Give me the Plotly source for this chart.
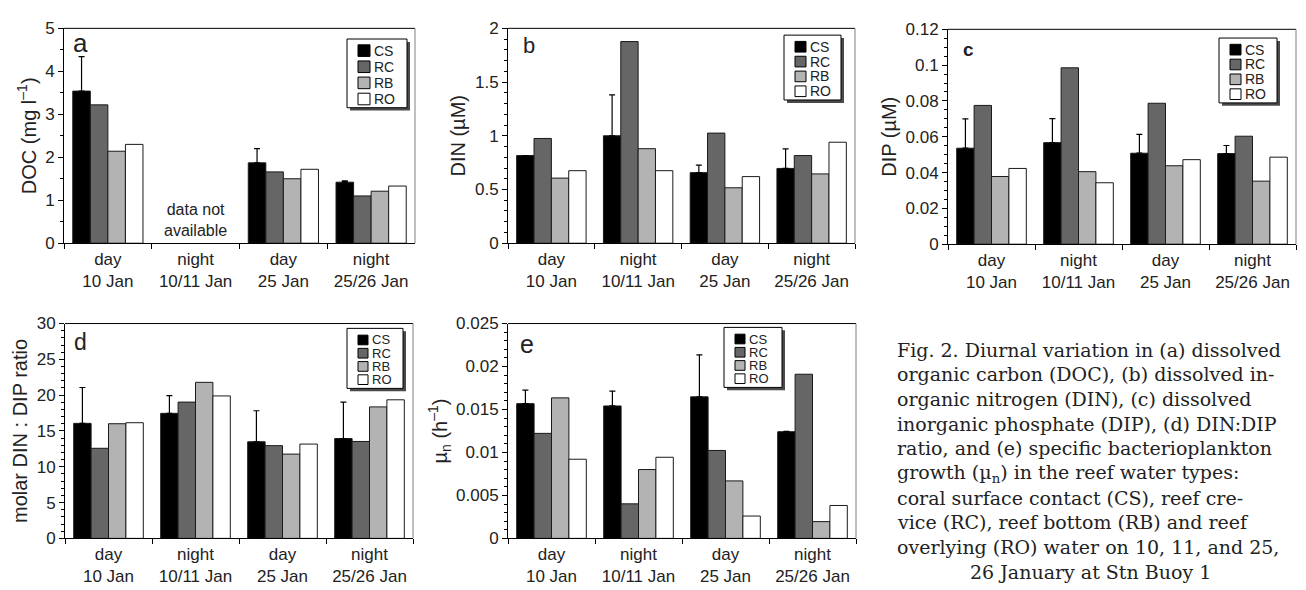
import plotly.graph_objects as go

W, H = 1306, 590

categories = ["day<br>10 Jan", "night<br>10/11 Jan", "day<br>25 Jan", "night<br>25/26 Jan"]
series_names = ["CS", "RC", "RB", "RO"]
series_colors = ["#000000", "#666666", "#b3b3b3", "#ffffff"]

# (a) DOC (mg l-1) — night 10/11 Jan not available
doc_cs = [3.54, None, 1.87, 1.42]
doc_rc = [3.22, None, 1.66, 1.10]
doc_rb = [2.14, None, 1.50, 1.21]
doc_ro = [2.30, None, 1.72, 1.33]
doc_cs_err = [0.80, 0, 0.33, 0.03]

# (b) DIN (uM)
din_cs = [0.816, 1.00, 0.657, 0.696]
din_rc = [0.975, 1.877, 1.025, 0.816]
din_rb = [0.606, 0.88, 0.516, 0.645]
din_ro = [0.675, 0.675, 0.62, 0.94]
din_cs_err = [0.0, 0.38, 0.07, 0.183]

# (c) DIP (uM)
dip_cs = [0.0536, 0.0567, 0.0508, 0.0506]
dip_rc = [0.0775, 0.0985, 0.0787, 0.0603]
dip_rb = [0.0378, 0.0405, 0.0438, 0.0352]
dip_ro = [0.0423, 0.0343, 0.0472, 0.0486]
dip_cs_err = [0.0164, 0.0134, 0.0105, 0.0045]

# (d) molar DIN:DIP ratio
ratio_cs = [16.06, 17.46, 13.49, 13.94]
ratio_rc = [12.58, 19.03, 12.95, 13.53]
ratio_rb = [16.01, 21.79, 11.77, 18.36]
ratio_ro = [16.15, 19.89, 13.17, 19.35]
ratio_cs_err = [5.01, 2.48, 4.33, 5.09]

# (e) specific growth mu_n (h-1)
mu_cs = [0.01568, 0.01541, 0.01647, 0.01241]
mu_rc = [0.01222, 0.00402, 0.01023, 0.0191]
mu_rb = [0.01635, 0.00801, 0.00669, 0.00195]
mu_ro = [0.00921, 0.00944, 0.0026, 0.00383]
mu_cs_err = [0.00158, 0.00173, 0.00488, 0.00003]

panels = [
    dict(vals=[doc_cs, doc_rc, doc_rb, doc_ro], err=doc_cs_err, letter="a",
         title="DOC (mg l<sup>–1</sup>)", rng=[0, 5], dtick=1, minor=0.5,
         px=(64, 415, 20, 242), leg=(347, 31, 407, 102), lfont=14, sq=12,
         lpos=(80, 35), lsize=26, lbold=False),
    dict(vals=[din_cs, din_rc, din_rb, din_ro], err=din_cs_err, letter="b",
         title="DIN (µM)", rng=[0, 2], dtick=0.5, minor=0.1,
         px=(508, 855, 20, 242), leg=(784, 27, 841, 94), lfont=14, sq=11,
         lpos=(529, 38), lsize=22, lbold=False),
    dict(vals=[dip_cs, dip_rc, dip_rb, dip_ro], err=dip_cs_err, letter="c",
         title="DIP (µM)", rng=[0, 0.12], dtick=0.02, minor=0.005,
         px=(948, 1296, 21, 243), leg=(1219, 30, 1277, 97), lfont=14, sq=11,
         lpos=(968, 42), lsize=19, lbold=True),
    dict(vals=[ratio_cs, ratio_rc, ratio_rb, ratio_ro], err=ratio_cs_err, letter="d",
         title="molar DIN : DIP ratio", rng=[0, 30], dtick=5, minor=1,
         px=(65, 413, 325, 547), leg=(347, 330, 403, 392), lfont=13, sq=10,
         lpos=(80, 344), lsize=23, lbold=False),
    dict(vals=[mu_cs, mu_rc, mu_rb, mu_ro], err=mu_cs_err, letter="e",
         title="µ<sub>n</sub> (h<sup>–1</sup>)", rng=[0, 0.025], dtick=0.005, minor=0.001,
         px=(508, 856, 325, 547), leg=(724, 329, 782, 391), lfont=13, sq=10,
         lpos=(527, 346), lsize=25, lbold=False),
]

FONT = "Liberation Sans, Arial, sans-serif"
TXT = "#222222"


def px_x(v):
    return v / W


def px_y(v):
    return 1 - v / H


fig = go.Figure()
layout = dict(
    width=W, height=H, margin=dict(l=0, r=0, t=0, b=0),
    paper_bgcolor="white", plot_bgcolor="white",
    barmode="group", bargap=0.2, bargroupgap=0,
    font=dict(family=FONT, color=TXT, size=16),
    showlegend=False,
)
shapes = []
annotations = []

for i, p in enumerate(panels):
    n = i + 1
    xa = "x" if n == 1 else f"x{n}"
    ya = "y" if n == 1 else f"y{n}"
    x0, x1, y0, y1 = p["px"]
    for s, (name, col) in enumerate(zip(series_names, series_colors)):
        kw = {}
        if s == 0:
            kw["error_y"] = dict(type="data", array=p["err"], arrayminus=[0] * 4,
                                 symmetric=False, color="#000000", thickness=1.2, width=3)
        fig.add_trace(go.Bar(
            x=categories, y=p["vals"][s], name=name,
            marker=dict(color=col, line=dict(color="#1a1a1a", width=1)),
            xaxis=xa, yaxis=ya, showlegend=False,
            hoverinfo="skip", **kw))
    layout["xaxis" if n == 1 else f"xaxis{n}"] = dict(
        domain=[x0 / W, x1 / W], anchor=ya, type="category",
        categoryorder="array", categoryarray=categories,
        showline=True, linecolor="#000000", linewidth=1,
        ticks="outside", tickson="boundaries", ticklen=5, tickcolor="#000000",
        showgrid=False, zeroline=False, fixedrange=True,
        tickfont=dict(size=17, family=FONT, color=TXT),
    )
    layout["yaxis" if n == 1 else f"yaxis{n}"] = dict(
        domain=[1 - y1 / H, 1 - y0 / H], anchor=xa, range=p["rng"],
        dtick=p["dtick"], tick0=0,
        showline=True, linecolor="#000000", linewidth=1,
        ticks="outside", ticklen=5, tickcolor="#000000",
        minor=dict(ticks="outside", ticklen=3, dtick=p["minor"], tick0=0,
                   tickcolor="#000000", showgrid=False),
        showgrid=False, zeroline=False, fixedrange=True,
        tickfont=dict(size=17, family=FONT, color=TXT),
        title=dict(text=p["title"], font=dict(size=20, family=FONT, color=TXT), standoff=3),
    )
    # top and right frame lines
    shapes.append(dict(type="line", xref=f"{xa} domain", yref=f"{ya} domain",
                       x0=0, x1=1, y0=1, y1=1, line=dict(color="#000000", width=1)))
    shapes.append(dict(type="line", xref=f"{xa} domain", yref=f"{ya} domain",
                       x0=1, x1=1, y0=0, y1=1, line=dict(color="#808080", width=1)))

    # legend box with drop shadow
    L, T, R, B = p["leg"]
    shapes.append(dict(type="rect", xref="paper", yref="paper",
                       x0=px_x(L + 3), x1=px_x(R + 3), y0=px_y(B + 3), y1=px_y(T + 3),
                       fillcolor="#4a4a4a", line=dict(width=0)))
    shapes.append(dict(type="rect", xref="paper", yref="paper",
                       x0=px_x(L), x1=px_x(R), y0=px_y(B), y1=px_y(T),
                       fillcolor="white", line=dict(color="#000000", width=1)))
    hgt = B - T
    step = (hgt - 21) / 3.0
    sq = p["sq"]
    for s, (name, col) in enumerate(zip(series_names, series_colors)):
        cy = T + 12 + s * step
        shapes.append(dict(type="rect", xref="paper", yref="paper",
                           x0=px_x(L + 11), x1=px_x(L + 11 + sq),
                           y0=px_y(cy + sq / 2), y1=px_y(cy - sq / 2),
                           fillcolor=col, line=dict(color="#000000", width=1)))
        annotations.append(dict(
            text=name, xref="paper", yref="paper", x=px_x(L + 13 + sq), y=px_y(cy),
            xanchor="left", yanchor="middle", showarrow=False,
            font=dict(size=p["lfont"], family=FONT, color=TXT)))

    # panel letter
    lx, ly = p["lpos"]
    annotations.append(dict(
        text=f"<b>{p['letter']}</b>" if p["lbold"] else p["letter"],
        xref="paper", yref="paper", x=px_x(lx), y=px_y(ly),
        xanchor="center", yanchor="middle", showarrow=False,
        font=dict(size=p["lsize"], family=FONT, color=TXT),
    ))

# "data not available" note in panel a
annotations.append(dict(
    text="data not<br>available", x=categories[1], y=0.55, xref="x", yref="y",
    showarrow=False, font=dict(size=16, family=FONT, color=TXT),
))

caption_lines = [
    "Fig. 2. Diurnal variation in (a) dissolved",
    "organic carbon (DOC), (b) dissolved in-",
    "organic nitrogen (DIN), (c) dissolved",
    "inorganic phosphate (DIP), (d) DIN:DIP",
    "ratio, and (e) specific bacterioplankton",
    "growth (µ<sub>n</sub>) in the reef water types:",
    "coral surface contact (CS), reef cre-",
    "vice (RC), reef bottom (RB) and reef",
    "overlying (RO) water on 10, 11, and 25,",
    "26 January at Stn Buoy 1",
]
for k, line in enumerate(caption_lines):
    yc = 352 + k * 25.5
    last = k == len(caption_lines) - 1
    annotations.append(dict(
        text=line, xref="paper", yref="paper",
        x=(1090 if last else 895) / W, y=1 - yc / H,
        xanchor="center" if last else "left", yanchor="middle", showarrow=False,
        font=dict(size=19, family="DejaVu Serif, Liberation Serif, serif", color=TXT),
    ))

layout["shapes"] = shapes
layout["annotations"] = annotations
fig.update_layout(**layout)
fig.write_html("out.html")
